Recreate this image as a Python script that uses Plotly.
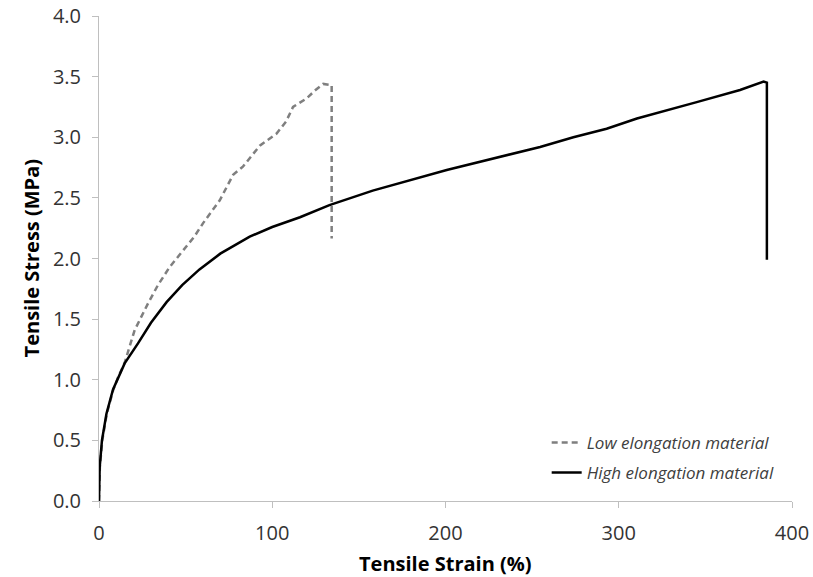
import plotly.graph_objects as go

# High elongation material (solid black)
high_strain = [0, 0.4, 1.7, 4.3, 8.1, 11, 14.8, 22.5, 30, 39, 48, 58, 70, 87, 100, 116, 133,
               158, 200.7, 254.6, 273.8, 293, 310.5, 345, 370, 383.6, 385.5, 385.5]
high_stress = [0, 0.28, 0.50, 0.72, 0.92, 1.02, 1.135, 1.30, 1.47, 1.64, 1.78, 1.91, 2.04,
               2.18, 2.26, 2.34, 2.44, 2.56, 2.73, 2.92, 3.00, 3.07, 3.155, 3.29, 3.39,
               3.46, 3.45, 1.99]

# Low elongation material (grey dashed)
low_strain = [0, 0.5, 1.9, 4.5, 8.3, 11, 14.8, 20.6, 28.3, 34, 40.8, 48.5, 55, 60, 69.7, 77.4,
              83.2, 92.8, 102.5, 108, 112, 119.8, 125, 129.4, 133.3, 134.3, 134.3]
low_stress = [0, 0.28, 0.50, 0.72, 0.92, 1.02, 1.14, 1.41, 1.63, 1.78, 1.93, 2.07, 2.18, 2.29,
              2.48, 2.69, 2.76, 2.93, 3.03, 3.13, 3.25, 3.32, 3.39, 3.44, 3.43, 3.43, 2.165]

x_ticks = [0, 100, 200, 300, 400]
y_ticks = [0.0, 0.5, 1.0, 1.5, 2.0, 2.5, 3.0, 3.5, 4.0]

fig = go.Figure()
fig.add_trace(go.Scatter(x=low_strain, y=low_stress, mode="lines",
                         name="Low elongation material", legendgroup="a",
                         line=dict(color="#7f7f7f", width=2.5, dash="6px,4px")))
fig.add_trace(go.Scatter(x=high_strain, y=high_stress, mode="lines",
                         name="High elongation material", legendgroup="b",
                         line=dict(color="#000000", width=2.5)))

axis_font = dict(family="Open Sans", size=20, color="#333333")
title_font = dict(family="Open Sans", size=20, color="#000000")

fig.update_layout(
    width=813, height=577,
    margin=dict(l=99, r=21, t=16, b=76),
    paper_bgcolor="white", plot_bgcolor="white",
    showlegend=True,
    legend=dict(x=0.646, y=0.157, xanchor="left", yanchor="top",
                font=dict(family="Open Sans", size=17, color="#404040", style="italic"),
                bgcolor="rgba(0,0,0,0)", traceorder="grouped", tracegroupgap=5),
    xaxis=dict(range=[0, 400], tickvals=x_ticks, ticktext=[str(v) for v in x_ticks],
               showgrid=False, zeroline=False, showline=True, linecolor="#bfbfbf",
               linewidth=1, ticks="outside", ticklen=6, tickcolor="#bfbfbf",
               tickfont=axis_font, ticklabelstandoff=8, automargin=False),
    yaxis=dict(range=[0, 4], tickvals=y_ticks, ticktext=[f"{v:.1f}" for v in y_ticks],
               showgrid=False, zeroline=False, showline=True, linecolor="#bfbfbf",
               linewidth=1, ticks="outside", ticklen=6, tickcolor="#bfbfbf",
               tickfont=axis_font, ticklabelstandoff=7, automargin=False),
    annotations=[
        dict(text="<b>Tensile Stress (MPa)</b>", textangle=-90,
             xref="paper", yref="paper", x=(32 - 99) / 692, y=0.5,
             xanchor="center", yanchor="middle", showarrow=False, font=title_font),
        dict(text="<b>Tensile Strain (%)</b>",
             xref="paper", yref="paper", x=0.5, y=(501 - 563) / 485,
             xanchor="center", yanchor="middle", showarrow=False, font=title_font),
    ],
)

fig.write_html("out.html")
